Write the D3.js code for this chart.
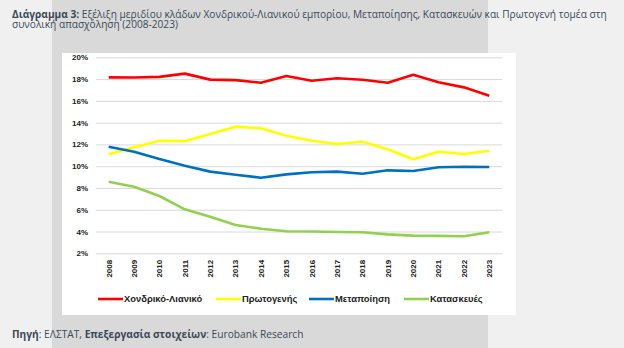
<!DOCTYPE html>
<meta charset="utf-8">
<style>
body { margin: 0; background: #f0f0f0; }
svg { display: block; font-family: "Open Sans", "DejaVu Sans", sans-serif; }
.grid line { stroke: #d9d9d9; stroke-width: 1; }
.axis text { font-family: "Liberation Sans", Arial, sans-serif; font-weight: bold; font-size: 8px; fill: #222; }
.line { fill: none; stroke-width: 2.6; stroke-linejoin: round; }
</style>
<body>
<script src="https://cdn.jsdelivr.net/npm/d3@7"></script>
<script>

// data
var years = ["2008","2009","2010","2011","2012","2013","2014","2015",
             "2016","2017","2018","2019","2020","2021","2022","2023"];
var wholesaleRetail = [18.16,18.15,18.2,18.5,17.95,17.9,17.67,18.28,17.85,18.07,17.94,17.67,18.4,17.7,17.24,16.47];
var primary         = [11.09,11.73,12.34,12.3,12.95,13.63,13.48,12.8,12.34,12.04,12.25,11.55,10.63,11.33,11.12,11.42];
var manufacturing   = [11.79,11.33,10.66,10.05,9.5,9.22,8.94,9.25,9.44,9.5,9.31,9.62,9.56,9.9,9.95,9.93];
var construction    = [8.58,8.12,7.26,6.04,5.36,4.6,4.26,4.02,4.0,3.96,3.93,3.74,3.62,3.6,3.57,3.93];
var seriesNames  = ["Χονδρικό-Λιανικό","Πρωτογενής","Μεταποίηση","Κατασκευές"];
var seriesColors = ["#ff0000","#ffff00","#0070c0","#92d050"];
var yTicks = [2,4,6,8,10,12,14,16,18,20];

var series = [wholesaleRetail, primary, manufacturing, construction];

var W = 624, H = 348;
var svg = d3.select("body").append("svg")
    .attr("width", W).attr("height", H);

// background pieces
svg.append("rect").attr("x", 0).attr("y", 0).attr("width", W).attr("height", H).attr("fill", "#f0f0f0");
svg.append("rect").attr("x", 52).attr("y", 0).attr("width", 436).attr("height", H).attr("fill", "#d9d9d9");
svg.append("rect").attr("x", 62).attr("y", 53).attr("width", 454).attr("height", 262).attr("fill", "#ffffff");

// text made of bold / regular runs, laid out piece by piece
function runs(xPos, yPos, size, parts) {
    var cx = xPos;
    parts.forEach(function(p) {
        var t = svg.append("text").attr("x", cx).attr("y", yPos)
            .attr("font-size", size).attr("fill", "#3b4a58")
            .attr("font-weight", p[0] ? "bold" : "normal")
            .style("white-space", "pre")
            .text(p[1]);
        cx += t.node().getComputedTextLength();
    });
}

// title
runs(12, 17.5, "10.15px", [[true, "Διάγραμμα 3:"],
    [false, " Εξέλιξη μεριδίου κλάδων Χονδρικού-Λιανικού εμπορίου, Μεταποίησης, Κατασκευών και Πρωτογενή τομέα στη"]]);
runs(12, 27.5, "10.15px", [[false, "συνολική απασχόληση (2008-2023)"]]);

// scales
var x = d3.scaleBand().domain(years).range([96, 502]);
var y = d3.scaleLinear().domain([2, 20]).range([253.3, 57.3]);

// y axis with gridlines
var yAxis = svg.append("g")
    .attr("class", "axis grid")
    .attr("transform", "translate(96,0)")
    .call(d3.axisLeft(y).tickValues(yTicks)
        .tickSizeInner(-406).tickSizeOuter(0).tickPadding(8)
        .tickFormat(function(d) { return d + "%"; }));
yAxis.select(".domain").remove();

// x axis labels
var xAxis = svg.append("g")
    .attr("class", "axis")
    .attr("transform", "translate(0,253.3)")
    .call(d3.axisBottom(x).tickSize(0));
xAxis.select(".domain").remove();
xAxis.selectAll("text")
    .attr("transform", "rotate(-90)")
    .attr("text-anchor", "end")
    .attr("x", -6.5)
    .attr("y", 0)
    .attr("dy", "0.35em");

// lines
var line = d3.line()
    .x(function(d, i) { return x(years[i]) + x.bandwidth() / 2; })
    .y(function(d) { return y(d); });

series.forEach(function(s, k) {
    svg.append("path")
        .datum(s)
        .attr("class", "line")
        .attr("stroke", seriesColors[k])
        .attr("d", line);
});

// legend
var legendX = [98, 216, 309, 404];
seriesNames.forEach(function(n, k) {
    var g = svg.append("g").attr("transform", "translate(" + legendX[k] + ",299)");
    g.append("line").attr("x1", 0).attr("x2", 25)
        .attr("stroke", seriesColors[k]).attr("stroke-width", 2.6);
    g.append("text").attr("x", 26).attr("dy", "0.35em")
        .attr("font-family", "Liberation Sans, Arial, sans-serif")
        .attr("font-weight", "bold").attr("font-size", "9.4px").attr("fill", "#222")
        .text(n);
});

// source
runs(12, 337.5, "10.2px", [[true, "Πηγή"], [false, ": ΕΛΣΤΑΤ, "],
    [true, "Επεξεργασία στοιχείων"], [false, ": Eurobank Research"]]);

</script>
</body>
